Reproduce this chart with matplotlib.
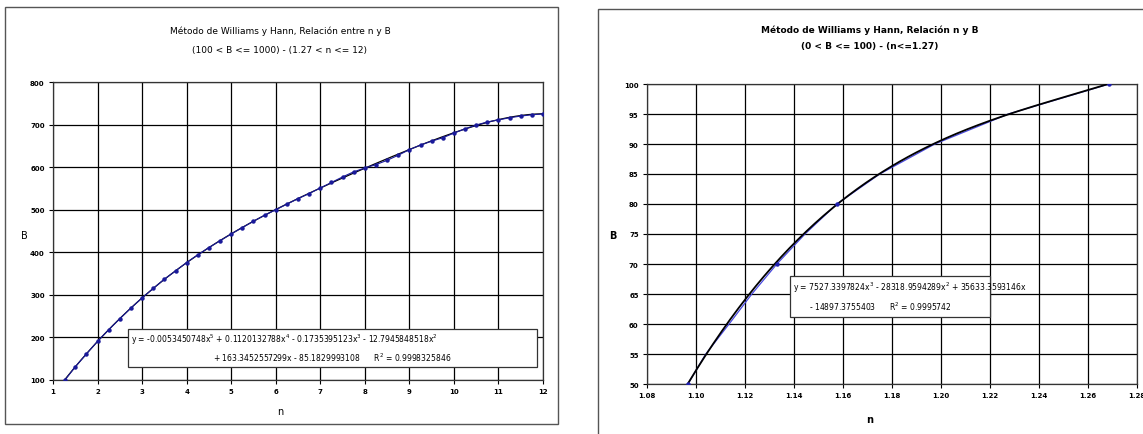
"""
Williams y Hann: relacion entre n y B (dos graficas)
"""
import matplotlib
matplotlib.use("Agg")
import matplotlib.pyplot as plt
import numpy as np
from matplotlib.patches import Rectangle

# Datos - grafica izquierda (1.27 < n <= 12)
N_LEFT = [1.27, 1.5, 1.75, 2.0, 2.25, 2.5, 2.75, 3.0, 3.25, 3.5, 3.75, 4.0,
          4.25, 4.5, 4.75, 5.0, 5.25, 5.5, 5.75, 6.0, 6.25, 6.5, 6.75, 7.0,
          7.25, 7.5, 7.75, 8.0, 8.25, 8.5, 8.75, 9.0, 9.25, 9.5, 9.75, 10.0,
          10.25, 10.5, 10.75, 11.0, 11.25, 11.5, 11.75, 12.0]
B_LEFT = [100, 131, 161, 191, 218, 244, 269, 293, 315, 337, 356, 376,
          394, 411, 427, 443, 458, 473, 487, 500, 513, 526, 538, 551,
          564, 577, 589, 598, 606, 616, 628, 641, 652, 661, 669, 680,
          690, 699, 706, 711, 716, 720, 723, 725]

# Coeficientes de la linea de tendencia (del grafico)
COEF_LEFT = [-0.0053450748, 0.1120132788, -0.1735395123, -12.7945848518,
             163.3452557299, -85.1829993108]
EQ_LEFT = ["y = -0.0053450748x$^5$ + 0.1120132788x$^4$ - 0.1735395123x$^3$ - 12.7945848518x$^2$",
           "+ 163.3452557299x - 85.1829993108      R$^2$ = 0.9998325846"]

# Datos - grafica derecha (n <= 1.27)
N_RIGHT = [1.0967, 1.1040, 1.1135, 1.1228, 1.1330, 1.1445, 1.1575, 1.1750,
           1.1975, 1.2275, 1.2686]
B_RIGHT = [50, 55, 60, 65, 70, 75, 80, 85, 90, 95, 100]
COEF_RIGHT = [7527.3397824, -28318.9594289, 35633.3593146, -14897.3755403]
EQ_RIGHT = ["y = 7527.3397824x$^3$ - 28318.9594289x$^2$ + 35633.3593146x",
            "- 14897.3755403      R$^2$ = 0.9995742"]

W, H = 1143, 435
fig = plt.figure(figsize=(W / 100, H / 100), dpi=100)


def fx(px):
    return px / W


def fy(py):
    return 1 - py / H


# marcos exteriores
fig.patches.append(Rectangle((fx(5), fy(425)), fx(553), 417 / H,
                             transform=fig.transFigure, fill=False,
                             ec="#555555", lw=1.0))
fig.patches.append(Rectangle((fx(598), fy(445)), fx(600), 435 / H,
                             transform=fig.transFigure, fill=False,
                             ec="#555555", lw=1.0))


def style_axes(ax):
    ax.grid(True, color="black", lw=0.9)
    ax.set_axisbelow(True)
    for s in ax.spines.values():
        s.set_color("#333333")
        s.set_linewidth(0.9)
    ax.tick_params(direction="out", length=3, width=0.8, labelsize=5,
                   pad=3)
    for lab in ax.get_xticklabels() + ax.get_yticklabels():
        lab.set_fontweight("bold")


# ---- izquierda
ax1 = fig.add_axes([fx(53), fy(381), fx(490), 298 / H])
xs = np.linspace(min(N_LEFT), max(N_LEFT), 300)
ax1.plot(xs, np.polyval(COEF_LEFT, xs), color="black", lw=0.9, zorder=3)
ax1.plot(N_LEFT, B_LEFT, color="#1a1a9a", lw=0.8, marker="o", ms=2.2,
         zorder=4)
ax1.set_xlim(1, 12)
ax1.set_ylim(100, 800)
ax1.set_xticks(range(1, 13))
ax1.set_yticks(range(100, 801, 100))
style_axes(ax1)

fig.text(fx(280), fy(31), "Método de Williams y Hann, Relación entre n y B",
         ha="center", va="center", fontsize=6.5)
fig.text(fx(280), fy(50), "(100 < B <= 1000) - (1.27 < n <= 12)",
         ha="center", va="center", fontsize=6.5)
fig.text(fx(280), fy(412), "n", ha="center", va="center", fontsize=7)
fig.text(fx(24), fy(236), "B", ha="center", va="center", fontsize=7)

ax1.add_patch(Rectangle((fx(128), fy(368)), fx(409), 38 / H,
                        transform=fig.transFigure, fc="white",
                        ec="#333333", lw=0.9, zorder=10))
fig.text(fx(131), fy(340), EQ_LEFT[0], ha="left", va="center",
         fontsize=5.5, zorder=11, family="Liberation Sans Narrow")
fig.text(fx(332), fy(358), EQ_LEFT[1], ha="center", va="center",
         fontsize=5.5, zorder=11, family="Liberation Sans Narrow")

# ---- derecha
ax2 = fig.add_axes([fx(647), fy(385), fx(490), 300 / H])
xs2 = np.linspace(min(N_RIGHT), max(N_RIGHT), 200)
ax2.plot(N_RIGHT, B_RIGHT, color="#4848e0", lw=0.9, zorder=3)
ax2.plot([N_RIGHT[0], N_RIGHT[4], N_RIGHT[6], N_RIGHT[-1]],
         [B_RIGHT[0], B_RIGHT[4], B_RIGHT[6], B_RIGHT[-1]],
         ls="none", marker="o", ms=2.2, color="#2020b0", zorder=5)
ax2.plot(xs2, np.polyval(COEF_RIGHT, xs2), color="black", lw=1.3,
         zorder=4)
ax2.set_xlim(1.08, 1.28)
ax2.set_ylim(50, 100)
ax2.set_xticks(np.arange(1.08, 1.2801, 0.02))
ax2.set_xticklabels([f"{v:.2f}" for v in np.arange(1.08, 1.2801, 0.02)])
ax2.set_yticks(range(50, 101, 5))
style_axes(ax2)

fig.text(fx(870), fy(30), "Método de Williams y Hann, Relación n y B",
         ha="center", va="center", fontsize=6.5, fontweight="bold")
fig.text(fx(870), fy(47), "(0 < B <= 100) - (n<=1.27)",
         ha="center", va="center", fontsize=6.5, fontweight="bold")
fig.text(fx(870), fy(420), "n", ha="center", va="center", fontsize=7,
         fontweight="bold")
fig.text(fx(613), fy(236), "B", ha="center", va="center", fontsize=7,
         fontweight="bold")

ax2.add_patch(Rectangle((fx(790), fy(318)), fx(200), 41 / H,
                        transform=fig.transFigure, fc="white",
                        ec="#333333", lw=0.9, zorder=10))
fig.text(fx(793), fy(288), EQ_RIGHT[0], ha="left", va="center",
         fontsize=5.5, zorder=11, family="Liberation Sans Narrow")
fig.text(fx(880), fy(307), EQ_RIGHT[1], ha="center", va="center",
         fontsize=5.5, zorder=11, family="Liberation Sans Narrow")

fig.savefig("out.png", dpi=100)
